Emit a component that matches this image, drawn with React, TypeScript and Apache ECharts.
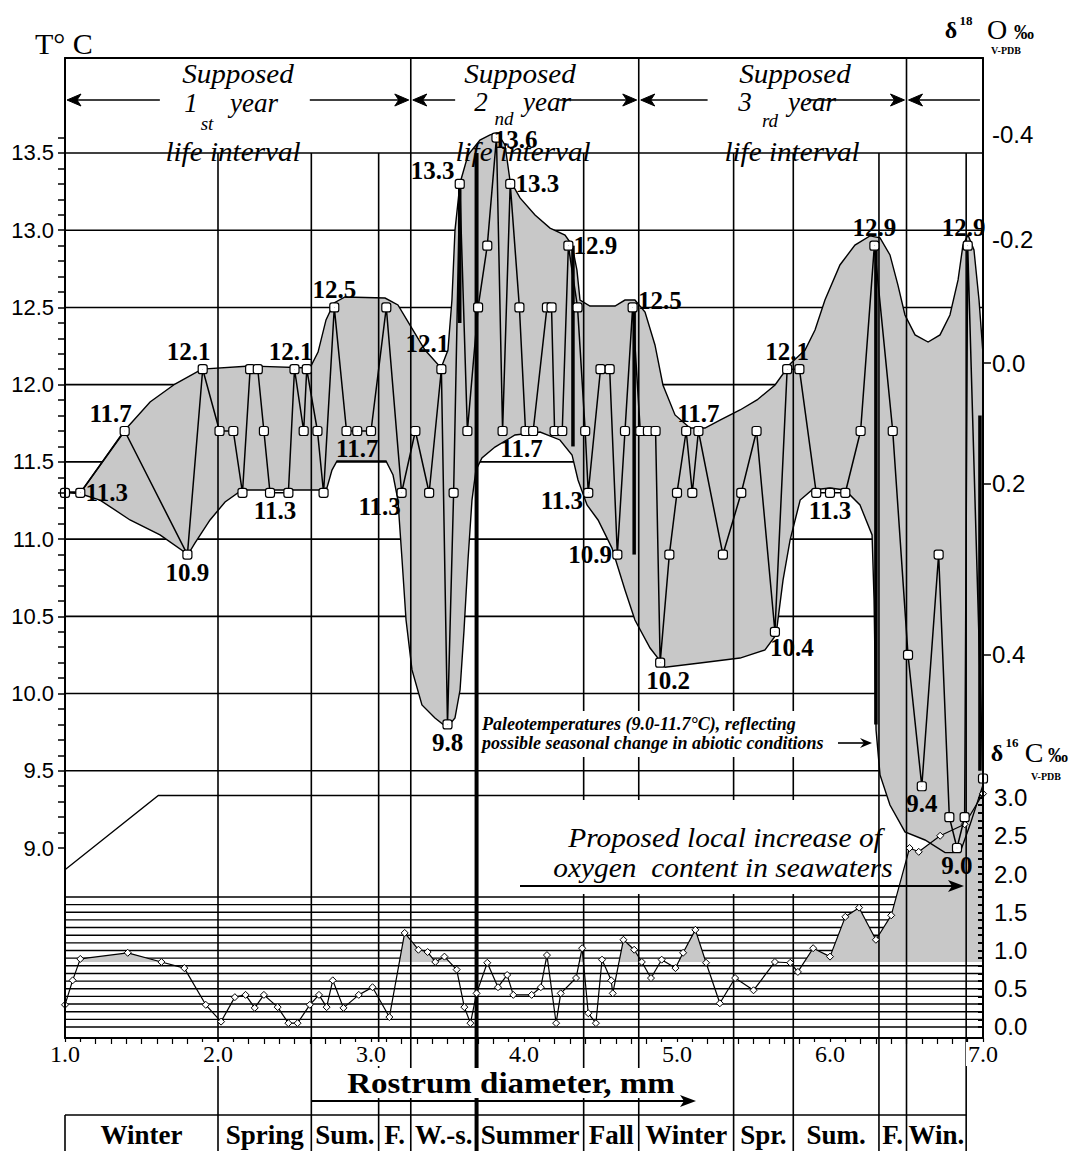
import React, { useEffect, useRef } from "react";
import * as echarts from "echarts";

// ---------- axis ranges ----------
const X_RANGE = [1.0, 7.0];
const T_RANGE = [7.77, 14.115];
const C_RANGE = [-0.1438, 12.667];

// ---------- tick labels ----------
const X_LABELS = [1, 2, 3, 4, 5, 6, 7];
const T_LABELS = [9.0, 9.5, 10.0, 10.5, 11.0, 11.5, 12.0, 12.5, 13.0, 13.5];
const T_GRID = [9.5, 10.0, 10.5, 11.0, 11.5, 12.0, 12.5, 13.0, 13.5];
const O18_LABELS = ["-0.4", "-0.2", "0.0", "0.2", "0.4"];
const O18_AT_T = [13.617, 12.937, 12.14, 11.357, 10.25];
const O18_TICK_AT_T = [12.14, 11.357, 10.25];
const C13_LABELS = [0, 0.5, 1.0, 1.5, 2.0, 2.5, 3.0];
const C13_BASE = 0.85;

const steps = (a: number, b: number, s: number) => {
  const out: number[] = [];
  for (let i = 0; a + i * s <= b + 1e-9; i++) out.push(+(a + i * s).toFixed(3));
  return out;
};
const X_TICKS = steps(1, 7, 0.1);
const T_TICKS = steps(9.0, 13.6, 0.1);
const C13_TICKS = steps(0, 3.0, 0.1);
const C13_GRID = steps(0, 1.7, 0.1);

// ---------- seasons / year intervals ----------
const SEASONS = ["Winter", "Spring", "Sum.", "F.", "W.-s.", "Summer", "Fall", "Winter", "Spr.", "Sum.", "F.", "Win."];
const SEASON_BOUNDS = [1.0, 2.0, 2.61, 3.05, 3.26, 3.69, 4.39, 4.75, 5.37, 5.76, 6.32, 6.5, 6.89];
const YEAR_BOUNDS = [3.26, 4.75, 6.5];
const THICK_BOUND = 3.69;
const ARROW_T = 13.843;
const YEAR_ARROWS: [number, number][] = [
  [1.62, 1.0], [2.6, 3.26], [3.55, 3.26], [4.23, 4.75], [5.2, 4.75], [5.85, 6.5], [6.98, 6.5],
];

// ---------- temperature (T, °C) points ----------
const TEMP_POINTS: [number, number][] = [
  [1.0, 11.3], [1.1, 11.3], [1.39, 11.7], [1.8, 10.9], [1.9, 12.1], [2.01, 11.7], [2.1, 11.7], [2.16, 11.3],
  [2.21, 12.1], [2.26, 12.1], [2.3, 11.7], [2.34, 11.3], [2.46, 11.3], [2.5, 12.1], [2.56, 11.7], [2.58, 12.1],
  [2.65, 11.7], [2.69, 11.3], [2.76, 12.5], [2.84, 11.7], [2.91, 11.7], [3.0, 11.7], [3.1, 12.5], [3.2, 11.3],
  [3.29, 11.7], [3.38, 11.3], [3.46, 12.1], [3.5, 9.8], [3.54, 11.3], [3.58, 13.3], [3.63, 11.7], [3.7, 12.5],
  [3.76, 12.9], [3.82, 13.6], [3.86, 11.7], [3.91, 13.3], [3.97, 12.5], [4.01, 11.7], [4.06, 11.7], [4.15, 12.5],
  [4.18, 12.5], [4.2, 11.7], [4.25, 11.7], [4.29, 12.9], [4.35, 12.5], [4.4, 11.7], [4.42, 11.3], [4.5, 12.1],
  [4.56, 12.1], [4.61, 10.9], [4.66, 11.7], [4.71, 12.5], [4.76, 11.7], [4.81, 11.7], [4.86, 11.7], [4.89, 10.2],
  [4.95, 10.9], [5.0, 11.3], [5.06, 11.7], [5.1, 11.3], [5.14, 11.7], [5.3, 10.9], [5.42, 11.3], [5.52, 11.7],
  [5.64, 10.4], [5.72, 12.1], [5.8, 12.1], [5.91, 11.3], [6.0, 11.3], [6.1, 11.3], [6.2, 11.7], [6.29, 12.9],
  [6.41, 11.7], [6.51, 10.25], [6.6, 9.4], [6.71, 10.9], [6.78, 9.2], [6.83, 9.0], [6.88, 9.2], [6.9, 12.9],
  [7.0, 9.45],
];

// labelled temperature values
const VALUE_LABELS: [number, number][] = [
  [1.1, 11.3], [1.39, 11.7], [1.8, 10.9], [1.9, 12.1], [2.34, 11.3], [2.5, 12.1], [2.76, 12.5], [2.91, 11.7],
  [3.2, 11.3], [3.46, 12.1], [3.5, 9.8], [3.58, 13.3], [3.82, 13.6], [3.91, 13.3], [4.01, 11.7], [4.29, 12.9],
  [4.42, 11.3], [4.61, 10.9], [4.71, 12.5], [4.89, 10.2], [5.14, 11.7], [5.64, 10.4], [5.72, 12.1], [6.0, 11.3],
  [6.29, 12.9], [6.6, 9.4], [6.83, 9.0], [6.9, 12.9],
];

// envelope of the temperature record
const ENV_UPPER: [number, number][] = [
  [1.0, 11.305], [1.105, 11.305], [1.386, 11.7], [1.556, 11.888], [1.719, 12.004], [1.895, 12.101], [2.209, 12.121],
  [2.601, 12.108], [2.654, 12.211], [2.706, 12.419], [2.758, 12.529], [2.83, 12.568], [3.092, 12.561], [3.176, 12.516],
  [3.255, 12.386], [3.353, 12.224], [3.458, 12.108], [3.503, 12.224], [3.529, 12.548], [3.549, 13.001], [3.582, 13.306],
  [3.634, 13.487], [3.712, 13.584], [3.778, 13.617], [3.824, 13.63], [3.876, 13.552], [3.908, 13.325], [3.974, 13.209],
  [4.072, 13.099], [4.17, 13.014], [4.268, 12.969], [4.314, 12.904], [4.346, 12.742], [4.366, 12.548], [4.431, 12.509],
  [4.595, 12.509], [4.66, 12.548], [4.725, 12.548], [4.791, 12.47], [4.856, 12.257], [4.908, 11.998], [4.987, 11.804],
  [5.085, 11.719], [5.183, 11.719], [5.281, 11.771], [5.412, 11.836], [5.523, 11.901], [5.641, 11.998], [5.739, 12.134],
  [5.837, 12.224], [5.902, 12.354], [5.967, 12.548], [6.065, 12.775], [6.163, 12.904], [6.261, 12.963], [6.327, 12.95],
  [6.392, 12.84], [6.444, 12.645], [6.49, 12.451], [6.556, 12.322], [6.641, 12.276], [6.719, 12.322], [6.784, 12.451],
  [6.837, 12.678], [6.869, 12.904], [6.902, 12.969], [6.941, 12.872], [6.974, 12.548], [7.0, 12.2],
];
const ENV_LOWER: [number, number][] = [
  [1.0, 11.305], [1.105, 11.292], [1.229, 11.253], [1.425, 11.124], [1.621, 11.027], [1.804, 10.9], [1.85, 10.975],
  [1.948, 11.124], [2.046, 11.24], [2.157, 11.318], [2.667, 11.318], [2.712, 11.331], [2.745, 11.447], [2.778, 11.506],
  [3.098, 11.506], [3.144, 11.415], [3.176, 11.253], [3.203, 10.865], [3.229, 10.476], [3.268, 10.153], [3.333, 9.926],
  [3.418, 9.842], [3.497, 9.78], [3.549, 9.842], [3.582, 10.023], [3.608, 10.411], [3.634, 10.865], [3.66, 11.253],
  [3.686, 11.447], [3.725, 11.525], [3.81, 11.596], [3.941, 11.674], [4.105, 11.693], [4.235, 11.642], [4.314, 11.545],
  [4.353, 11.383], [4.412, 11.221], [4.484, 11.124], [4.575, 10.942], [4.66, 10.67], [4.725, 10.476], [4.824, 10.295],
  [4.922, 10.17], [5.15, 10.198], [5.412, 10.23], [5.575, 10.282], [5.647, 10.38], [5.693, 10.735], [5.739, 10.994],
  [5.805, 11.253], [5.882, 11.318], [6.0, 11.331], [6.098, 11.318], [6.196, 11.221], [6.275, 11.027], [6.288, 10.606],
  [6.301, 9.764], [6.327, 9.473], [6.392, 9.278], [6.49, 9.104], [6.621, 9.052], [6.752, 8.97], [6.85, 8.97],
  [6.915, 9.15], [7.0, 9.408],
];

// thick drop lines [x, T from, T to]
const DROP_LINES: [number, number, number][] = [
  [3.58, 13.3, 12.4], [4.32, 12.9, 11.6], [4.72, 12.5, 10.9], [6.3, 12.9, 9.8], [6.98, 11.8, 9.5],
];
// reference level line (T)
const LEVEL_LINE: [number, number][] = [[1.0, 8.86], [1.61, 9.34], [7.0, 9.34]];

// ---------- δ13C points ----------
const C13_POINTS: [number, number][] = [
  [1.0, 0.29], [1.05, 0.61], [1.1, 0.89], [1.41, 0.97], [1.63, 0.85], [1.78, 0.77], [1.92, 0.29], [2.02, 0.07],
  [2.11, 0.39], [2.18, 0.42], [2.24, 0.25], [2.3, 0.42], [2.39, 0.26], [2.46, 0.05], [2.52, 0.05], [2.6, 0.29],
  [2.66, 0.42], [2.71, 0.26], [2.75, 0.61], [2.82, 0.25], [2.92, 0.42], [3.01, 0.52], [3.12, 0.13], [3.22, 1.23],
  [3.31, 1.01], [3.37, 0.98], [3.42, 0.85], [3.48, 0.92], [3.56, 0.75], [3.61, 0.26], [3.65, 0.05], [3.69, 0.44],
  [3.76, 0.84], [3.83, 0.52], [3.89, 0.68], [3.93, 0.42], [4.05, 0.42], [4.11, 0.52], [4.15, 0.94], [4.21, 0.05],
  [4.24, 0.44], [4.34, 0.64], [4.38, 1.03], [4.42, 0.18], [4.47, 0.05], [4.51, 0.88], [4.57, 0.61], [4.58, 0.44],
  [4.65, 1.14], [4.72, 1.01], [4.77, 0.85], [4.83, 0.64], [4.9, 0.88], [4.99, 0.77], [5.04, 0.97], [5.12, 1.27],
  [5.19, 0.84], [5.28, 0.31], [5.38, 0.64], [5.5, 0.48], [5.64, 0.85], [5.74, 0.84], [5.79, 0.72], [5.89, 1.03],
  [6.0, 0.92], [6.1, 1.44], [6.19, 1.56], [6.3, 1.14], [6.4, 1.46], [6.52, 2.34], [6.58, 2.29], [6.72, 2.5],
  [6.88, 2.65], [7.0, 3.05],
];

const SERIF = "'Liberation Serif', 'Times New Roman', serif";
const SANS = "'Liberation Sans', Arial, sans-serif";
const GRAY = "#c8c8c8";

function lineEl(x1: number, y1: number, x2: number, y2: number, w = 1.5) {
  return { type: "line", shape: { x1, y1, x2, y2 }, style: { stroke: "#000", lineWidth: w, fill: "none" } };
}

function txt(text: string, x: number, y: number, o: any = {}, extra: any = {}) {
  const align = o.align || "center";
  return {
    type: "text",
    x,
    y,
    z: 100,
    silent: true,
    ...extra,
    style: {
      text,
      fill: "#000",
      fontFamily: SERIF,
      fontSize: 24,
      ...o,
      align,
      textAlign: align,
      verticalAlign: "middle",
      textVerticalAlign: "middle",
    },
  };
}

function arrowHead(x: number, y: number, dir: number, len = 14, half = 6) {
  return {
    type: "polygon",
    z: 101,
    silent: true,
    shape: { points: [[x, y], [x - dir * len, y - half], [x - dir * (len - 4), y], [x - dir * len, y + half]] },
    style: { fill: "#000" },
  };
}

const LABEL_PLACEMENT: [string, number, number][] = [
  ["right", 0, 0], ["top", -14, 0], ["bottom", 0, 0], ["top", -14, 0], ["bottom", 5, 0], ["top", -4, 0],
  ["top", 0, 0], ["bottom", 0, 0], ["bottom", -22, -4], ["top", -14, -8], ["bottom", 0, 0], ["left", 0, -13],
  ["right", -8, 2], ["right", 0, 0], ["bottom", -4, 0], ["right", 0, 0], ["left", 0, 8], ["left", 0, 0],
  ["right", 0, -7], ["bottom", 8, 0], ["top", 0, 0], ["bottom", 17, -2], ["top", 0, 0], ["bottom", 0, 0],
  ["top", 0, 0], ["bottom", 0, 0], ["bottom", 0, 0], ["top", -4, 0],
];

function buildOption() {
  const axisLineStyle = { color: "#000", width: 2 };
  const custom = (yAxisIndex: number, z: number, renderItem: any) => ({
    type: "custom",
    xAxisIndex: 0,
    yAxisIndex,
    z,
    clip: false,
    silent: true,
    data: [[X_RANGE[0], yAxisIndex === 2 ? 0 : 10]],
    renderItem,
  });

  const series: any[] = [
    // horizontal temperature grid + level line
    custom(0, 1, (params: any, api: any) => {
      const children: any[] = [];
      const x1 = api.coord([X_RANGE[0], 10])[0];
      const x2 = api.coord([X_RANGE[1], 10])[0];
      T_GRID.forEach((t) => {
        const y = api.coord([X_RANGE[0], t])[1];
        children.push(lineEl(x1, y, x2, y, 1.6));
      });
      children.push({
        type: "polyline",
        shape: { points: LEVEL_LINE.map((p) => api.coord(p)) },
        style: { stroke: "#000", lineWidth: 1.3, fill: "none" },
      });
      return { type: "group", children };
    }),
    // δ13C band grid
    custom(2, 1, (params: any, api: any) => {
      const x1 = api.coord([X_RANGE[0], 0])[0];
      const x2 = api.coord([X_RANGE[1], 0])[0];
      return {
        type: "group",
        children: C13_GRID.map((v) => {
          const y = api.coord([X_RANGE[0], v])[1];
          return lineEl(x1, y, x2, y, 1.4);
        }),
      };
    }),
    // δ13C shaded area above baseline
    custom(2, 2, (params: any, api: any) => {
      const pts: number[][] = [];
      const n = C13_POINTS.length;
      pts.push(api.coord([C13_POINTS[0][0], C13_BASE]));
      for (let i = 0; i < n; i++) {
        const [x, v] = C13_POINTS[i];
        if (i > 0) {
          const [px, pv] = C13_POINTS[i - 1];
          if ((pv - C13_BASE) * (v - C13_BASE) < 0) {
            const t = (C13_BASE - pv) / (v - pv);
            pts.push(api.coord([px + t * (x - px), C13_BASE]));
          }
        }
        pts.push(api.coord([x, Math.max(v, C13_BASE)]));
      }
      pts.push(api.coord([C13_POINTS[n - 1][0], C13_BASE]));
      return { type: "polygon", shape: { points: pts }, style: { fill: GRAY, stroke: "none" } };
    }),
    // temperature envelope
    custom(0, 3, (params: any, api: any) => {
      const pts = [
        ...ENV_UPPER.map((p) => api.coord(p)),
        ...ENV_LOWER.slice().reverse().map((p) => api.coord(p)),
      ];
      return { type: "polygon", shape: { points: pts }, style: { fill: GRAY, stroke: "#000", lineWidth: 1.4 } };
    }),
    // vertical season lines + season table
    custom(0, 4, (params: any, api: any) => {
      const cs = params.coordSys;
      const bottom = api.getHeight();
      const yTop135 = api.coord([X_RANGE[0], 13.5])[1];
      const children: any[] = [];
      SEASON_BOUNDS.slice(1).forEach((b) => {
        const x = api.coord([b, 10])[0];
        const full = YEAR_BOUNDS.indexOf(b) >= 0;
        children.push(lineEl(x, full ? cs.y : yTop135, x, bottom, b === THICK_BOUND ? 4 : 1.6));
      });
      const tableTop = bottom - 36;
      const xl = api.coord([SEASON_BOUNDS[0], 10])[0];
      const xr = api.coord([SEASON_BOUNDS[SEASON_BOUNDS.length - 1], 10])[0];
      children.push(lineEl(xl, tableTop, xr, tableTop, 1.6));
      children.push(lineEl(xl, tableTop, xl, bottom, 1.6));
      SEASONS.forEach((s, i) => {
        const xa = api.coord([SEASON_BOUNDS[i], 10])[0];
        const xb = api.coord([SEASON_BOUNDS[i + 1], 10])[0];
        children.push({
          type: "text",
          style: {
            text: s,
            x: (xa + xb) / 2,
            y: bottom - 16,
            fill: "#000",
            fontFamily: SERIF,
            fontWeight: "bold",
            fontSize: 27,
            align: "center",
            textAlign: "center",
            verticalAlign: "middle",
            textVerticalAlign: "middle",
          },
        });
      });
      return { type: "group", children };
    }),
    // thick drop lines
    custom(0, 5, (params: any, api: any) => ({
      type: "group",
      children: DROP_LINES.map(([x, a, b]) => {
        const p1 = api.coord([x, a]);
        const p2 = api.coord([x, b]);
        return lineEl(p1[0], p1[1], p2[0], p2[1], 3.5);
      }),
    })),
    // δ13C curve
    {
      type: "line",
      xAxisIndex: 0,
      yAxisIndex: 2,
      z: 6,
      data: C13_POINTS,
      showAllSymbol: true,
      symbol: "diamond",
      symbolSize: 7,
      lineStyle: { color: "#000", width: 1.2 },
      itemStyle: { color: "#fff", borderColor: "#000", borderWidth: 1 },
      silent: true,
    },
    // temperature curve
    {
      type: "line",
      xAxisIndex: 0,
      yAxisIndex: 0,
      z: 7,
      data: TEMP_POINTS,
      showAllSymbol: true,
      symbol: "roundRect",
      symbolSize: 9,
      lineStyle: { color: "#000", width: 1.5 },
      itemStyle: { color: "#fff", borderColor: "#000", borderWidth: 1.2 },
      silent: true,
    },
    // value labels
    {
      type: "scatter",
      xAxisIndex: 0,
      yAxisIndex: 0,
      z: 8,
      symbolSize: 0.5,
      itemStyle: { color: "#000" },
      silent: true,
      data: VALUE_LABELS.map((p, i) => ({
        value: p,
        label: {
          show: true,
          position: LABEL_PLACEMENT[i][0],
          offset: [LABEL_PLACEMENT[i][1], LABEL_PLACEMENT[i][2]],
          distance: 5,
          formatter: (q: any) => q.value[1].toFixed(1),
          fontFamily: SERIF,
          fontWeight: "bold",
          fontSize: 25,
          color: "#000",
          opacity: 1,
          textBorderWidth: 0,
        },
      })),
    },
    // year interval arrows
    custom(0, 9, (params: any, api: any) => {
      const children: any[] = [];
      YEAR_ARROWS.forEach(([from, to]) => {
        const [x1, y] = api.coord([from, ARROW_T]);
        const x2 = api.coord([to, ARROW_T])[0];
        const dir = Math.sign(x2 - x1);
        children.push(lineEl(x1, y, x2 - dir * 4, y, 1.6));
        children.push({
          type: "polygon",
          shape: { points: [[x2 - dir * 2, y], [x2 - dir * 16, y - 6], [x2 - dir * 12, y], [x2 - dir * 16, y + 6]] },
          style: { fill: "#000", stroke: "#000", lineWidth: 1 },
        });
      });
      return { type: "group", children };
    }),
  ];

  const it = { fontSize: 27, fontStyle: "italic" };
  const sub = { fontSize: 19, fontStyle: "italic" };
  const graphic: any[] = [
    // axis titles
    txt("T° C", 35, 43, { fontSize: 30, align: "left" }),
    txt("δ", 951, 30, { fontSize: 24, fontWeight: "bold" }),
    txt("18", 966, 20, { fontSize: 13, fontWeight: "bold" }),
    txt("O", 997, 29, { fontSize: 28 }),
    txt("‰", 1024, 32, { fontSize: 20, fontWeight: "bold" }),
    txt("V-PDB", 1006, 50, { fontSize: 10, fontWeight: "bold" }),
    txt("δ", 997, 753, { fontSize: 24, fontWeight: "bold" }),
    txt("16", 1012, 742, { fontSize: 13, fontWeight: "bold" }),
    txt("C", 1034, 752, { fontSize: 28 }),
    txt("‰", 1058, 755, { fontSize: 20, fontWeight: "bold" }),
    txt("V-PDB", 1046, 776, { fontSize: 10, fontWeight: "bold" }),
    // year intervals
    txt("Supposed", 238, 74, it, { scaleX: 1.08 }),
    txt("1", 191, 103, it),
    txt("st", 207, 123, sub),
    txt("year", 254, 103, it),
    txt("life interval", 233, 152, it, { scaleX: 1.08 }),
    txt("Supposed", 520, 74, it, { scaleX: 1.08 }),
    txt("2", 481, 102, it),
    txt("nd", 504, 118, sub),
    txt("year", 547, 102, it),
    txt("life interval", 523, 152, it, { scaleX: 1.08 }),
    txt("Supposed", 795, 74, it, { scaleX: 1.08 }),
    txt("3", 745, 102, it),
    txt("rd", 770, 120, sub),
    txt("year", 812, 102, it),
    txt("life interval", 792, 152, it, { scaleX: 1.08 }),
    // paleotemperature note
    { type: "rect", z: 99, silent: true, shape: { x: 479, y: 711, width: 391, height: 46 }, style: { fill: "#fff" } },
    txt("Paleotemperatures (9.0-11.7°C), reflecting", 482, 724, { fontSize: 18, fontStyle: "italic", fontWeight: "bold", align: "left" }),
    txt("possible seasonal change in abiotic conditions", 482, 743, { fontSize: 18, fontStyle: "italic", fontWeight: "bold", align: "left" }),
    { type: "line", z: 101, silent: true, shape: { x1: 838, y1: 743, x2: 864, y2: 743 }, style: { stroke: "#000", lineWidth: 1.6 } },
    arrowHead(872, 743, 1, 12, 5),
    // oxygen note
    { type: "rect", z: 99, silent: true, shape: { x: 516, y: 800, width: 360, height: 94 }, style: { fill: "#fff" } },
    txt("Proposed local increase of", 725, 837, { fontSize: 28 }, {}),
    txt("oxygen  content in seawaters", 723, 867, { fontSize: 28 }, {}),
    { type: "line", z: 101, silent: true, shape: { x1: 520, y1: 886, x2: 952, y2: 886 }, style: { stroke: "#000", lineWidth: 2 } },
    arrowHead(964, 886, 1, 16, 6),
    // x-axis title
    txt(
      "Rostrum diameter, mm",
      511,
      1083,
      { fontSize: 30, fontWeight: "bold", backgroundColor: "#fff", padding: [0, 3] },
      { scaleX: 1.1 }
    ),
    { type: "line", z: 101, silent: true, shape: { x1: 312, y1: 1101, x2: 684, y2: 1101 }, style: { stroke: "#000", lineWidth: 2 } },
    arrowHead(696, 1101, 1, 16, 6),
  ];
  // italic + width for the oxygen note
  graphic.forEach((g) => {
    if (g.style && (g.style.text === "Proposed local increase of" || g.style.text === "oxygen  content in seawaters")) {
      g.style.fontStyle = "italic";
      g.scaleX = 1.05;
    }
  });

  return {
    animation: false,
    backgroundColor: "#fff",
    grid: { left: 65, right: 92, top: 58, bottom: 113, containLabel: false, outerBoundsMode: "none", show: false },
    xAxis: [
      {
        type: "value",
        min: X_RANGE[0],
        max: X_RANGE[1],
        interval: 1,
        position: "bottom",
        z: 50,
        axisLine: { show: true, onZero: false, lineStyle: axisLineStyle },
        axisTick: { show: true, customValues: X_TICKS, length: 6, lineStyle: { color: "#000", width: 1.2 } },
        axisLabel: {
          customValues: X_LABELS,
          formatter: (v: number) => v.toFixed(1),
          color: "#000",
          fontFamily: SERIF,
          fontSize: 24,
          margin: 4,
          backgroundColor: "#fff",
          padding: [0, 2],
        },
        splitLine: { show: false },
      },
      {
        type: "value",
        min: X_RANGE[0],
        max: X_RANGE[1],
        position: "top",
        z: 50,
        axisLine: { show: true, onZero: false, lineStyle: axisLineStyle },
        axisTick: { show: false },
        axisLabel: { show: false },
        splitLine: { show: false },
      },
    ],
    yAxis: [
      {
        type: "value",
        min: T_RANGE[0],
        max: T_RANGE[1],
        position: "left",
        z: 50,
        axisLine: { show: true, onZero: false, lineStyle: axisLineStyle },
        axisTick: { show: true, customValues: T_TICKS, length: 7, lineStyle: { color: "#000", width: 1.5 } },
        axisLabel: {
          customValues: T_LABELS,
          formatter: (v: number) => v.toFixed(1),
          color: "#000",
          fontFamily: SANS,
          fontSize: 22,
          margin: 11,
        },
        splitLine: { show: false },
      },
      {
        type: "value",
        min: T_RANGE[0],
        max: T_RANGE[1],
        position: "right",
        z: 50,
        axisLine: { show: true, onZero: false, lineStyle: axisLineStyle },
        axisTick: { show: true, customValues: O18_TICK_AT_T, length: 8, lineStyle: { color: "#000", width: 1.5 } },
        axisLabel: {
          customValues: O18_AT_T,
          formatter: (v: number) => {
            let best = 0;
            O18_AT_T.forEach((t, i) => {
              if (Math.abs(t - v) < Math.abs(O18_AT_T[best] - v)) best = i;
            });
            return O18_LABELS[best];
          },
          color: "#000",
          fontFamily: SANS,
          fontSize: 24,
          margin: 9,
        },
        splitLine: { show: false },
      },
      {
        type: "value",
        min: C_RANGE[0],
        max: C_RANGE[1],
        position: "right",
        z: 50,
        axisLine: { show: false, onZero: false },
        axisTick: { show: true, inside: true, customValues: C13_TICKS, length: 5, lineStyle: { color: "#000", width: 2 } },
        axisLabel: {
          customValues: C13_LABELS,
          formatter: (v: number) => v.toFixed(1),
          color: "#000",
          fontFamily: SANS,
          fontSize: 24,
          margin: 11,
        },
        splitLine: { show: false },
      },
    ],
    series,
    graphic,
  };
}

export default function App() {
  const ref = useRef<HTMLDivElement>(null);
  useEffect(() => {
    document.body.style.margin = "0";
    const chart = echarts.init(ref.current as HTMLDivElement, null, { renderer: "svg" });
    chart.setOption(buildOption() as any);
    return () => chart.dispose();
  }, []);
  return <div ref={ref} style={{ width: 1075, height: 1151, background: "#fff" }} />;
}
